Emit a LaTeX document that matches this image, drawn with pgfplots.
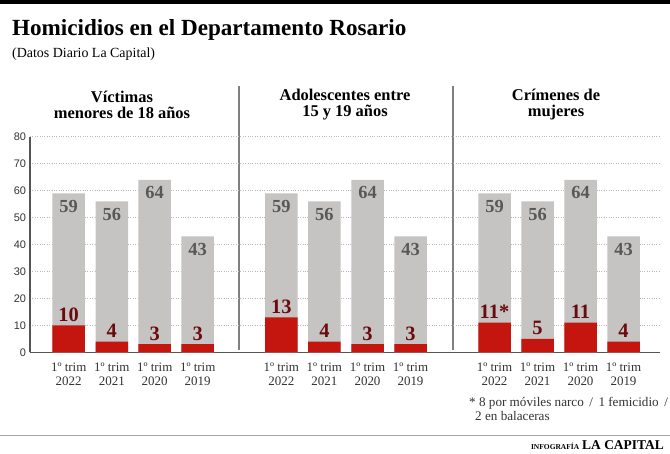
\documentclass[border=0pt]{standalone}
\usepackage{pgfplots}
\pgfplotsset{compat=1.18}
\usepackage{fontspec}
\setmainfont{Liberation Serif}
\newfontfamily\sansf{Liberation Sans}
\definecolor{bargray}{HTML}{C5C4C3}
\definecolor{barred}{HTML}{C4150F}
\definecolor{lblred}{HTML}{6B0A0E}
\definecolor{lblgray}{HTML}{585858}
\definecolor{axgray}{HTML}{555555}
\definecolor{sepgray}{HTML}{808080}
\definecolor{txt}{HTML}{333333}
\begin{document}
\begin{tikzpicture}
\useasboundingbox (0,0) rectangle (670bp,454bp);
\fill[white] (0,0) rectangle (670bp,454bp);
\fill[black] (0,450bp) rectangle (670bp,454bp);
% titles
\node[anchor=base west, inner sep=0] at (12bp,418.3bp) {\fontsize{23.2}{26}\selectfont\bfseries Homicidios en el Departamento Rosario};
\node[anchor=base west, inner sep=0] at (12bp,396.5bp) {\fontsize{14}{16}\selectfont (Datos Diario La Capital)};
% panel titles
\node[align=center, inner sep=0, font=\fontsize{16.5}{16.3}\selectfont\bfseries] at (122bp,349.3bp) {Víctimas\\menores de 18 años};
\node[align=center, inner sep=0, font=\fontsize{16.5}{16.3}\selectfont\bfseries] at (345bp,349.3bp) {Adolescentes entre\\15 y 19 años};
\node[align=center, inner sep=0, font=\fontsize{16.5}{16.3}\selectfont\bfseries] at (556bp,349.3bp) {Crímenes de\\mujeres};
% separators
\draw[sepgray, line width=1.2bp] (239bp,368bp) -- (239bp,104bp);
\draw[sepgray, line width=1.2bp] (453bp,368bp) -- (453bp,104bp);
\begin{axis}[
  at={(30bp,101.7bp)}, anchor=south west,
  scale only axis, width=630bp, height=215.6bp,
  xmin=30, xmax=660, ymin=0, ymax=80,
  axis lines*=left,
  axis line style={draw=axgray, line width=1.3bp},
  ymajorgrids, grid style={dotted, color=gray!55, line width=0.6bp},
  ytick={0,10,...,80},
  major tick length=0pt,
  /pgf/number format/assume math mode=true,
  yticklabel style={font=\sansf\fontsize{11}{12}\selectfont, color=txt, xshift=-0.5bp},
  xtick={68.7,111.8,154.7,197.7,281.3,324.4,367.5,410.5,494.5,537.5,580.5,623.5},
  xticklabels={{1º trim\\2022},{1º trim\\2021},{1º trim\\2020},{1º trim\\2019},
               {1º trim\\2022},{1º trim\\2021},{1º trim\\2020},{1º trim\\2019},
               {1º trim\\2022},{1º trim\\2021},{1º trim\\2020},{1º trim\\2019}},
  xticklabel style={align=center, font=\fontsize{13}{13.8}\selectfont, color=txt, yshift=-7.5bp},
  ybar, bar width=32.5bp, bar shift=0pt,
  clip=false,
]
\addplot[fill=bargray, draw=none,
  nodes near coords,
  every node near coord/.append style={anchor=center, yshift=-13bp, font=\fontsize{18.5}{20}\selectfont\bfseries, color=lblgray}]
  coordinates {(68.7,59) (111.8,56) (154.7,64) (197.7,43)
               (281.3,59) (324.4,56) (367.5,64) (410.5,43)
               (494.5,59) (537.5,56) (580.5,64) (623.5,43)};
\addplot[fill=barred, draw=none,
  point meta=explicit symbolic,
  nodes near coords,
  every node near coord/.append style={anchor=center, yshift=10.5bp, font=\fontsize{20.5}{22}\selectfont\bfseries, color=lblred}]
  coordinates {(68.7,10) [10] (111.8,4) [4] (154.7,3) [3] (197.7,3) [3]
               (281.3,13) [13] (324.4,4) [4] (367.5,3) [3] (410.5,3) [3]
               (494.5,11) [11*] (537.5,5) [5] (580.5,11) [11] (623.5,4) [4]};
\end{axis}
% footnote
\node[anchor=base west, inner sep=0, font=\fontsize{13.2}{14}\selectfont, color=txt] at (469bp,47.3bp) {* 8 por móviles narco\, / \,1 femicidio\, /};
\node[anchor=base west, inner sep=0, font=\fontsize{13.2}{14}\selectfont, color=txt] at (475bp,34bp) {2 en balaceras};
% bottom rule and logo
\draw[gray!70, line width=0.8bp] (0,19bp) -- (670bp,19bp);
\node[anchor=base east, inner sep=0] at (664bp,4.5bp) {{\fontsize{7.5}{8}\selectfont\bfseries INFOGRAFÍA}\hspace{3bp}{\fontsize{13.5}{14}\selectfont\bfseries LA CAPITAL}};
\end{tikzpicture}
\end{document}
